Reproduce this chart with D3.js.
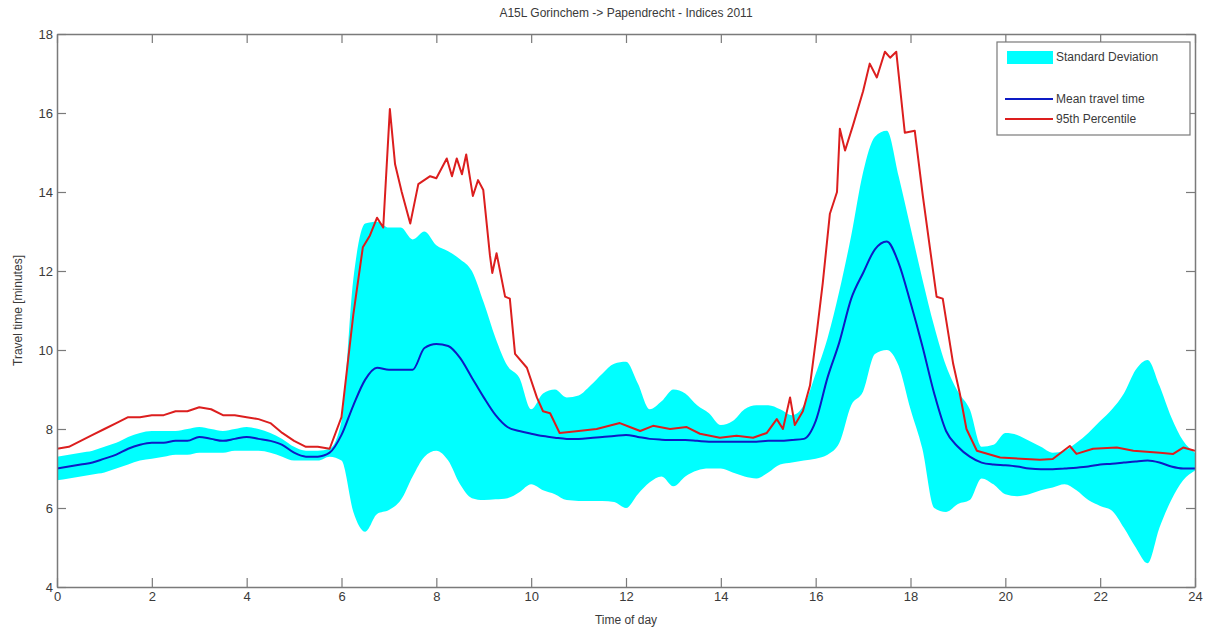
<!DOCTYPE html>
<html>
<head>
<meta charset="utf-8">
<script src="https://cdn.jsdelivr.net/npm/d3@7"></script>
<style>
  body { margin: 0; background: #fff; }
  svg text { font-family: "Liberation Sans", Arial, sans-serif; fill: #3a3a3a; }
</style>
</head>
<body>
<svg id="chart" width="1209" height="630"></svg>
<script>
// time of day (hours) for the band and the mean, quarter-hour steps
const hours = d3.range(0, 24.001, 0.25);

const meanTime = [
  7.0, 7.05, 7.1, 7.15, 7.25, 7.35, 7.5, 7.6, 7.65, 7.65, 7.7, 7.7,
  7.8, 7.75, 7.7, 7.75, 7.8, 7.75, 7.7, 7.6, 7.4, 7.3, 7.3, 7.4,
  7.85, 8.6, 9.25, 9.55, 9.5, 9.5, 9.5, 10.05, 10.15, 10.1, 9.8, 9.3,
  8.8, 8.35, 8.05, 7.95, 7.88, 7.82, 7.78, 7.75, 7.75, 7.77, 7.8, 7.82,
  7.85, 7.8, 7.75, 7.73, 7.72, 7.72, 7.7, 7.68, 7.68, 7.68, 7.68, 7.68,
  7.7, 7.7, 7.72, 7.75, 8.2, 9.3, 10.2, 11.3, 11.95, 12.55, 12.75, 12.2,
  11.2, 10.1, 8.9, 7.95, 7.55, 7.3, 7.15, 7.1, 7.08, 7.05, 7.0, 6.98,
  6.98, 7.0, 7.02, 7.05, 7.1, 7.12, 7.15, 7.18, 7.2, 7.15, 7.05, 7.0,
  7.0
];

const sdUpper = [
  7.3, 7.35, 7.4, 7.45, 7.55, 7.65, 7.8, 7.9, 7.95, 7.95, 7.95, 8.0,
  8.05, 8.0, 7.95, 8.0, 8.05, 8.0, 7.9, 7.75, 7.55, 7.45, 7.45, 7.5,
  8.2, 11.8, 13.2, 13.25, 13.1, 13.1, 12.8, 13.0, 12.65, 12.5, 12.3, 12.0,
  11.2, 10.3, 9.6, 9.3, 8.5, 8.9, 9.0, 8.8, 8.85, 9.1, 9.4, 9.65,
  9.7, 9.15, 8.5, 8.7, 9.0, 8.9, 8.6, 8.4, 8.1, 8.2, 8.5, 8.6,
  8.6, 8.5, 8.35, 8.6, 9.4, 10.3, 11.5, 12.9, 14.5, 15.4, 15.55, 14.4,
  13.1, 11.8, 10.6, 9.6, 8.95, 8.5, 7.55, 7.6, 7.9, 7.85, 7.7, 7.55,
  7.4, 7.45, 7.65, 7.9, 8.2, 8.5, 8.9, 9.5, 9.75, 9.1, 8.3, 7.7,
  7.4
];

const sdLower = [
  6.7, 6.75, 6.8, 6.85, 6.9, 7.0, 7.1, 7.2, 7.25, 7.3, 7.35, 7.35,
  7.4, 7.4, 7.4, 7.45, 7.45, 7.45, 7.4, 7.3, 7.2, 7.2, 7.2, 7.3,
  7.2, 5.9, 5.4, 5.85, 5.95, 6.2, 6.8, 7.3, 7.45, 7.2, 6.6, 6.25,
  6.2, 6.22, 6.25, 6.4, 6.6, 6.45, 6.35, 6.2, 6.18, 6.18, 6.18, 6.15,
  6.0, 6.35, 6.65, 6.8, 6.55, 6.8, 6.95, 7.0, 7.0, 6.9, 6.8, 6.75,
  6.9, 7.1, 7.15, 7.2, 7.25, 7.35, 7.65, 8.6, 8.95, 9.9, 10.0, 9.6,
  8.5, 7.5, 6.0, 5.9, 6.1, 6.2, 6.75, 6.6, 6.35, 6.3, 6.35, 6.45,
  6.52, 6.6, 6.45, 6.2, 6.05, 5.93, 5.5, 5.0, 4.6, 5.5, 6.2, 6.7,
  6.95
];

// 95th percentile is spiky, read at its own time points
const p95Hours = [
  0, 0.25, 0.5, 0.75, 1, 1.25, 1.5, 1.75, 2, 2.25, 2.5, 2.75,
  3, 3.25, 3.5, 3.75, 4, 4.25, 4.5, 4.75, 5, 5.25, 5.5, 5.75,
  6.0, 6.25, 6.45, 6.6, 6.75, 6.88, 7.02, 7.13, 7.27, 7.45, 7.62, 7.87,
  8.0, 8.22, 8.33, 8.43, 8.54, 8.63, 8.77, 8.88, 8.99, 9.13, 9.18, 9.27,
  9.45, 9.55, 9.66, 9.91, 10.12, 10.25, 10.4, 10.6, 11.0, 11.38, 11.87, 12.08,
  12.3, 12.57, 12.93, 13.28, 13.56, 13.98, 14.33, 14.68, 14.97, 15.18, 15.31, 15.46,
  15.56, 15.73, 15.88, 16.02, 16.15, 16.3, 16.45, 16.51, 16.62, 16.79, 17.0, 17.14,
  17.29, 17.46, 17.57, 17.7, 17.88, 18.09, 18.26, 18.55, 18.68, 18.9, 19.04, 19.18,
  19.4, 19.89, 20.73, 21.0, 21.36, 21.5, 21.85, 22.35, 22.7, 23.26, 23.54, 23.75,
  24.0
];
const p95Values = [
  7.5, 7.55, 7.7, 7.85, 8.0, 8.15, 8.3, 8.3, 8.35, 8.35, 8.45, 8.45,
  8.55, 8.5, 8.35, 8.35, 8.3, 8.25, 8.15, 7.9, 7.7, 7.55, 7.55, 7.5,
  8.3, 10.9, 12.6, 12.9, 13.35, 13.1, 16.1, 14.7, 14.0, 13.2, 14.2, 14.4,
  14.35, 14.85, 14.4, 14.85, 14.45, 14.95, 13.9, 14.3, 14.05, 12.4, 11.95, 12.45,
  11.35, 11.3, 9.9, 9.55, 8.8, 8.45, 8.4, 7.9, 7.95, 8.0, 8.15, 8.05,
  7.95, 8.08, 8.0, 8.05, 7.88, 7.78, 7.83, 7.78, 7.9, 8.25, 8.0, 8.8,
  8.1, 8.45, 9.1, 10.4, 11.7, 13.45, 14.0, 15.6, 15.05, 15.7, 16.55, 17.25,
  16.9, 17.55, 17.4, 17.55, 15.5, 15.55, 13.9, 11.35, 11.3, 9.65, 8.9, 8.0,
  7.45, 7.28, 7.22, 7.24, 7.57, 7.37, 7.5, 7.53, 7.45, 7.4, 7.37, 7.53,
  7.45
];

const xTicks = d3.range(0, 25, 2);
const yTicks = d3.range(4, 19, 2);

const legendLabels = ["Standard Deviation", "Mean travel time", "95th Percentile"];

const width = 1209, height = 630;
const margin = { top: 34, right: 14, bottom: 43, left: 57 };
const axisColor = "#7a7a7a";
const bandColor = "#00ffff";
const meanColor = "#0d1bc4";
const p95Color = "#dc1e1e";

const svg = d3.select("#chart");

const x = d3.scaleLinear().domain([0, 24]).range([margin.left, width - margin.right]);
const y = d3.scaleLinear().domain([4, 18]).range([height - margin.bottom, margin.top]);

svg.append("defs").append("clipPath")
    .attr("id", "plot-clip")
    .append("rect")
    .attr("x", margin.left)
    .attr("y", margin.top)
    .attr("width", width - margin.left - margin.right)
    .attr("height", height - margin.top - margin.bottom);

const plot = svg.append("g").attr("clip-path", "url(#plot-clip)");

// standard deviation band
const bandData = hours.map((h, i) => ({ h: h, lo: sdLower[i], hi: sdUpper[i] }));
plot.append("path")
    .datum(bandData)
    .attr("fill", bandColor)
    .attr("d", d3.area()
        .curve(d3.curveMonotoneX)
        .x(d => x(d.h))
        .y0(d => y(d.lo))
        .y1(d => y(d.hi)));

// mean travel time
plot.append("path")
    .datum(hours.map((h, i) => [h, meanTime[i]]))
    .attr("fill", "none")
    .attr("stroke", meanColor)
    .attr("stroke-width", 2)
    .attr("d", d3.line().curve(d3.curveMonotoneX).x(d => x(d[0])).y(d => y(d[1])));

// 95th percentile
plot.append("path")
    .datum(p95Hours.map((h, i) => [h, p95Values[i]]))
    .attr("fill", "none")
    .attr("stroke", p95Color)
    .attr("stroke-width", 2)
    .attr("stroke-linejoin", "round")
    .attr("d", d3.line().x(d => x(d[0])).y(d => y(d[1])));

// axes, ticks pointing inwards on all four sides
function styleAxis(g) {
    g.select(".domain").attr("stroke", axisColor).attr("stroke-width", 1.5);
    g.selectAll(".tick line").attr("stroke", axisColor).attr("stroke-width", 1.2);
    g.selectAll(".tick text")
        .attr("fill", "#3a3a3a")
        .style("font-size", "13px")
        .style("font-family", '"Liberation Sans", Arial, sans-serif');
}

svg.append("g")
    .attr("transform", `translate(0,${height - margin.bottom})`)
    .call(d3.axisBottom(x).tickValues(xTicks).tickSizeInner(-9).tickSizeOuter(0).tickPadding(5))
    .call(styleAxis);

svg.append("g")
    .attr("transform", `translate(0,${margin.top})`)
    .call(d3.axisTop(x).tickValues(xTicks).tickSizeInner(-9).tickSizeOuter(0).tickFormat(""))
    .call(styleAxis);

svg.append("g")
    .attr("transform", `translate(${margin.left},0)`)
    .call(d3.axisLeft(y).tickValues(yTicks).tickSizeInner(-9).tickSizeOuter(0).tickPadding(4))
    .call(styleAxis);

svg.append("g")
    .attr("transform", `translate(${width - margin.right},0)`)
    .call(d3.axisRight(y).tickValues(yTicks).tickSizeInner(-9).tickSizeOuter(0).tickFormat(""))
    .call(styleAxis);

// title and axis labels
svg.append("text")
    .attr("x", (margin.left + width - margin.right) / 2)
    .attr("y", 17)
    .attr("text-anchor", "middle")
    .style("font-size", "12px")
    .text("A15L Gorinchem -> Papendrecht - Indices 2011");

svg.append("text")
    .attr("x", (margin.left + width - margin.right) / 2)
    .attr("y", 624)
    .attr("text-anchor", "middle")
    .style("font-size", "12px")
    .text("Time of day");

svg.append("text")
    .attr("transform", `translate(22,${(margin.top + height - margin.bottom) / 2}) rotate(-90)`)
    .attr("text-anchor", "middle")
    .style("font-size", "12px")
    .text("Travel time [minutes]");

// legend
const legend = svg.append("g").attr("transform", "translate(997,42)");
legend.append("rect")
    .attr("width", 193)
    .attr("height", 93)
    .attr("fill", "#fff")
    .attr("stroke", axisColor)
    .attr("stroke-width", 1.2);

legend.append("rect")
    .attr("x", 10).attr("y", 9)
    .attr("width", 46).attr("height", 13)
    .attr("fill", bandColor);

legend.append("line")
    .attr("x1", 8).attr("x2", 56)
    .attr("y1", 57).attr("y2", 57)
    .attr("stroke", meanColor).attr("stroke-width", 2);

legend.append("line")
    .attr("x1", 8).attr("x2", 56)
    .attr("y1", 77).attr("y2", 77)
    .attr("stroke", p95Color).attr("stroke-width", 2);

legend.selectAll("text.label")
    .data(legendLabels)
    .enter()
    .append("text")
    .attr("class", "label")
    .attr("x", 59)
    .attr("y", (d, i) => [15, 57, 77][i])
    .attr("dy", "0.35em")
    .style("font-size", "12px")
    .text(d => d);
</script>
</body>
</html>
